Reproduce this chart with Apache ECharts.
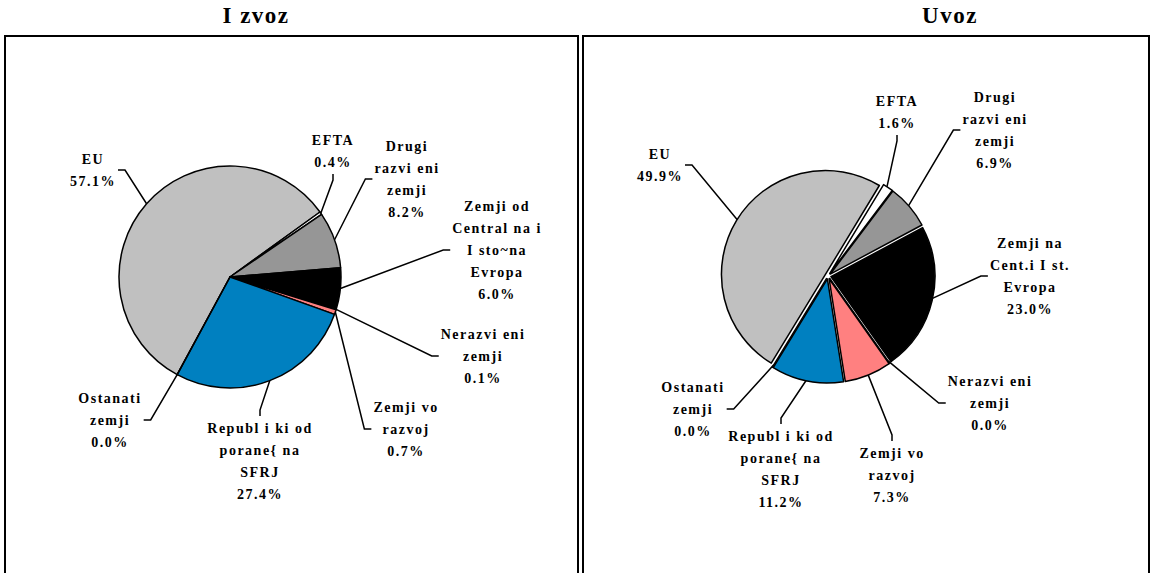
<!DOCTYPE html>
<html>
<head>
<meta charset="utf-8">
<script src="https://cdn.jsdelivr.net/npm/echarts@6/dist/echarts.min.js"></script>
<style>
  html, body { margin: 0; padding: 0; background: #fff; }
  #chart { width: 1156px; height: 573px; }
  /* the original font is set very wide, svg text takes letter-spacing */
  #chart text { letter-spacing: 1.5px; }
</style>
</head>
<body>
<div id="chart"></div>
<script>
  var izvozNames = ['EU', 'EFTA', 'Drugi\nrazvi eni\nzemji', 'Zemji od\nCentral na i\nI sto~na\nEvropa',
    'Nerazvi eni\nzemji', 'Zemji vo\nrazvoj', 'Republ i ki od\nporane{ na\nSFRJ', 'Ostanati\nzemji'];
  var uvozNames = ['EU', 'EFTA', 'Drugi\nrazvi eni\nzemji', 'Zemji na\nCent.i I st.\nEvropa',
    'Nerazvi eni\nzemji', 'Zemji vo\nrazvoj', 'Republ i ki od\nporane{ na\nSFRJ', 'Ostanati\nzemji'];
  var izvozValues = [57.1, 0.4, 8.2, 6.0, 0.1, 0.7, 27.4, 0.0];
  var uvozValues = [49.9, 1.6, 6.9, 23.0, 0.0, 7.3, 11.2, 0.0];

  var sliceColors = ['#c0c0c0', '#ffffff', '#969696', '#000000', '#ffffff', '#ff8080', '#0080c0', '#ffffff'];
  // where the label blocks sit (centre, px) and which side the leader line enters
  var izvozLabelPos = [[93, 170], [333, 151], [407, 179], [497, 250], [483, 356], [406, 429], [260, 461], [110, 420]];
  var izvozLabelSide = ['right', 'bottom', 'left', 'left', 'left', 'left', 'top', 'right'];
  var uvozLabelPos = [[660, 165], [897, 112], [995, 130], [1030, 276], [990, 403], [892, 475], [781, 469], [693, 409]];
  var uvozLabelSide = ['right', 'bottom', 'left', 'left', 'left', 'top', 'top', 'right'];

  function makeData(names, values, selected, colored) {
    var out = [];
    for (var i = 0; i < values.length; i++) {
      out.push({
        name: names[i],
        value: values[i],
        selected: selected,
        itemStyle: { color: colored ? sliceColors[i] : 'rgba(0,0,0,0)' }
      });
    }
    return out;
  }

  // move the label and run the leader from the slice to one side of it, with a short tick
  function placeLabel(p, pos, side) {
    var lines = (p.text || '').split('\n');
    var maxLen = 0;
    for (var i = 0; i < lines.length; i++) maxLen = Math.max(maxLen, lines[i].length);
    var w = p.labelRect.width + 1.5 * maxLen;
    var h = p.labelRect.height;
    var cx = pos[0], cy = pos[1];
    var res = { x: cx, y: cy, align: 'center', verticalAlign: 'middle' };
    if (!p.labelLinePoints) return res;
    var a = p.labelLinePoints[0];
    var end, mid;
    if (side == 'left') { end = [cx - w / 2 - 2, cy]; mid = [end[0] - 7, cy]; }
    else if (side == 'right') { end = [cx + w / 2 + 2, cy]; mid = [end[0] + 7, cy]; }
    else if (side == 'top') { end = [cx, cy - h / 2 - 1]; mid = [cx, end[1] - 6]; }
    else { end = [cx, cy + h / 2 + 1]; mid = [cx, end[1] + 6]; }
    res.labelLinePoints = [[a[0], a[1]], mid, end];
    return res;
  }

  var labelStyle = {
    show: true,
    color: '#000',
    fontFamily: 'Liberation Serif',
    fontWeight: 'bold',
    fontSize: 14,
    lineHeight: 22,
    align: 'center',
    formatter: function (p) {
      return p.name + '\n' + p.value.toFixed(1) + '%';
    }
  };
  var lineStyle = { show: true, length: 10, length2: 7, lineStyle: { color: '#000', width: 1.5 } };

  var mChart = echarts.init(document.getElementById('chart'), null, { renderer: 'svg' });

  var option = {
    animation: false,
    backgroundColor: '#fff',
    graphic: [
      { type: 'rect', shape: { x: 5, y: 36, width: 573, height: 560 }, style: { fill: 'none', stroke: '#000', lineWidth: 2 } },
      { type: 'rect', shape: { x: 583, y: 36, width: 566, height: 560 }, style: { fill: 'none', stroke: '#000', lineWidth: 2 } },
      { type: 'text', style: { x: 256, y: 15, text: 'I zvoz', textAlign: 'center', textVerticalAlign: 'middle',
          font: 'bold 23px "Liberation Serif"', fill: '#000' } },
      { type: 'text', style: { x: 950, y: 15, text: 'Uvoz', textAlign: 'center', textVerticalAlign: 'middle',
          font: 'bold 23px "Liberation Serif"', fill: '#000' } }
    ],
    series: [
      {
        type: 'pie',
        name: 'Izvoz',
        center: [230, 277],
        radius: 111,
        startAngle: 241.6,
        avoidLabelOverlap: false,
        selectedMode: false,
        itemStyle: { borderColor: '#000', borderWidth: 1.5 },
        label: labelStyle,
        labelLine: lineStyle,
        labelLayout: function (p) {
          return placeLabel(p, izvozLabelPos[p.dataIndex], izvozLabelSide[p.dataIndex]);
        },
        emphasis: { disabled: true },
        data: makeData(izvozNames, izvozValues, false, true)
      },
      {
        // exploded slices, no labels (select state would move the labels)
        type: 'pie',
        name: 'Uvoz',
        center: [828, 276],
        radius: 104,
        startAngle: 238.6,
        selectedMode: 'multiple',
        selectedOffset: 3,
        itemStyle: { borderColor: '#000', borderWidth: 1.5 },
        label: { show: false },
        labelLine: { show: false },
        emphasis: { disabled: true },
        data: makeData(uvozNames, uvozValues, true, true)
      },
      {
        // same pie, see-through, only carries the labels
        type: 'pie',
        name: 'Uvoz labels',
        silent: true,
        center: [828, 276],
        radius: 104,
        startAngle: 238.6,
        avoidLabelOverlap: false,
        selectedMode: false,
        itemStyle: { borderWidth: 0 },
        label: labelStyle,
        labelLine: lineStyle,
        labelLayout: function (p) {
          return placeLabel(p, uvozLabelPos[p.dataIndex], uvozLabelSide[p.dataIndex]);
        },
        emphasis: { disabled: true },
        data: makeData(uvozNames, uvozValues, false, false)
      }
    ]
  };

  mChart.setOption(option);
</script>
</body>
</html>
